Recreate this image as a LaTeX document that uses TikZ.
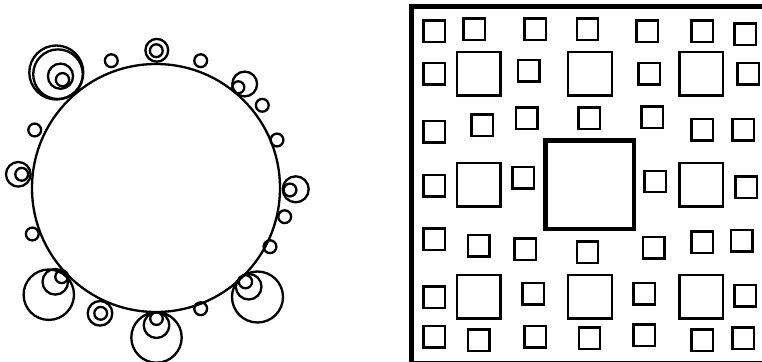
\documentclass[tikz,border=0pt]{standalone}
\usepackage{tikz}

\begin{document}
\begin{tikzpicture}[
  x=0.25mm, y=-0.25mm,
  ring/.style={draw, line width=0.58mm},
  box/.style={draw, line width=0.6mm},
  frame/.style={draw, line width=1.15mm}
]
  \useasboundingbox (0,0) rectangle (762,362);

  % left: the big circle with its beads
  \draw[ring] (156,188) circle[radius=124];
  % nested clusters
  \draw[ring] (56.3,72.5) circle[radius=27];
  \draw[ring] (58,74.2) circle[radius=24.8];
  \draw[ring] (60.5,76.2) circle[radius=12.6];
  \draw[ring] (62.5,79.7) circle[radius=6.6];
  \draw[ring] (48.8,294.7) circle[radius=25.2];
  \draw[ring] (55.3,281.8) circle[radius=12.8];
  \draw[ring] (61.7,276.7) circle[radius=6.4];
  \draw[ring] (156.5,337.5) circle[radius=25.2];
  \draw[ring] (156.5,325.2) circle[radius=12.8];
  \draw[ring] (156.5,318.6) circle[radius=6.3];
  \draw[ring] (257.5,297) circle[radius=25.5];
  \draw[ring] (248.7,286.7) circle[radius=12.8];
  \draw[ring] (245.5,281.7) circle[radius=6.6];
  % pairs
  \draw[ring] (18.3,174.3) circle[radius=12.3];
  \draw[ring] (21.7,174.3) circle[radius=6.4];
  \draw[ring] (156.8,50.3) circle[radius=11.4];
  \draw[ring] (156.3,50.7) circle[radius=6.4];
  \draw[ring] (244.7,84) circle[radius=12.4];
  \draw[ring] (238.3,87.3) circle[radius=6];
  \draw[ring] (295.7,189.3) circle[radius=13];
  \draw[ring] (290,190) circle[radius=6.4];
  \draw[ring] (100,313.3) circle[radius=12.3];
  \draw[ring] (100.7,313.3) circle[radius=6.4];
  % single beads
  \foreach \cx/\cy in {111.3/60.7, 34.7/130, 200.7/60.7, 262.3/105.3, 277/140,
      32.3/234, 284.7/216.7, 270/246.7, 200.7/308.7}
    \draw[ring] (\cx,\cy) circle[radius=6.4];

  % right: squares inside a frame
  \draw[frame] (411.3,6.7) rectangle (766,363);
  \draw[frame] (545.7,140.3) rectangle (634,229);
  \foreach \cx/\cy in {434.3/31, 474/29.3, 535/29.3, 587.5/29.3, 647.3/31, 702/31, 745/34.3,
      434.3/73.7, 528.7/70.7, 649/73.7, 748/73.7,
      434.3/131.7, 482/125, 526.7/118.3, 589.2/118.3, 652.3/117, 702/129.7, 743/129.7,
      434.3/185.7, 523.3/177.7, 655.3/181.5, 746/187.3,
      434.3/239, 478.7/245.7, 525/249, 587.5/252, 653.7/247.7, 702/242.3, 741.7/240.7,
      434.3/297, 533.3/293.7, 644/293.7, 745/295.7,
      434.3/336.7, 478.7/340.3, 535/336.7, 589.5/338, 644/335, 702/340.3, 743.3/338.3}
    \draw[box] (\cx,\cy) +(-10.7,-10.7) rectangle +(10.7,10.7);
  \foreach \cx/\cy in {478.7/73.7, 589.8/73.7, 701.3/73.7,
      478.7/184.7, 701.3/184.7,
      478.7/296.7, 589.8/296.7, 701.3/296.7}
    \draw[box] (\cx,\cy) +(-21.9,-21.9) rectangle +(21.9,21.9);
\end{tikzpicture}
\end{document}
